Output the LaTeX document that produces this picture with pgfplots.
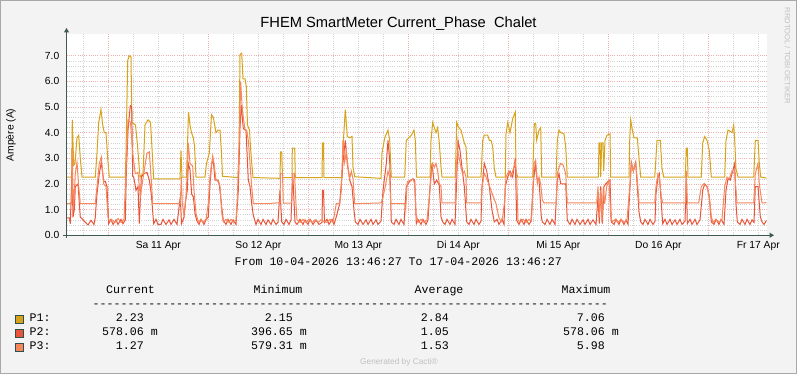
\documentclass[border=0pt]{standalone}
\usepackage{pgfplots}
\pgfplotsset{compat=1.18}
\usepackage{pgfplotstable}
\usepackage{fontspec}
\setmainfont{Liberation Sans}
\newfontfamily\monofont{Liberation Mono}
\usetikzlibrary{arrows.meta}
\definecolor{canvas}{HTML}{F3F3F3}
\definecolor{pone}{HTML}{D8A31A}
\definecolor{ptwo}{HTML}{E8553A}
\definecolor{pthree}{HTML}{F7875C}
\definecolor{mgrid}{HTML}{F0B0B0}
\definecolor{ngrid}{HTML}{D2D2D2}
\definecolor{axiscol}{HTML}{3E5A52}
\definecolor{boxborder}{HTML}{2F4F4F}
\definecolor{faint}{HTML}{C0C0C0}
\definecolor{frame}{HTML}{A8A8A8}

% x = time in hundredths of a day since 10 Apr 00:00 (plot shows 58.2 .. 758.2), y = ampere
\pgfplotstableread{
x y
58.2 2.27
63.4 2.27
64.0 4.5
65.4 2.73
66.7 2.8
68.7 3.8
70.4 3.9
72.0 3.0
73.7 2.27
87.0 2.27
88.7 3.2
90.4 4.4
92.7 4.9
94.4 4.3
96.0 4.0
97.7 4.0
99.4 3.0
101.0 2.27
117.0 2.27
117.7 3.2
119.4 6.8
120.7 7.0
122.7 6.95
123.6 4.4
127.2 4.3
129.2 3.5
131.7 2.27
134.7 2.4
136.7 4.3
139.7 4.5
142.2 4.4
143.7 3.4
145.4 2.2
171.7 2.2
172.7 3.3
173.7 2.27
178.2 2.27
179.0 3.3
180.2 4.8
181.7 4.3
183.2 4.0
185.0 3.8
186.2 3.5
187.7 2.27
196.7 2.27
198.2 2.8
201.0 3.2
203.2 4.7
205.0 4.6
207.7 4.0
209.7 4.1
211.7 4.1
213.2 3.2
214.2 2.3
229.7 2.25
230.7 3.25
231.7 7.05
233.4 7.1
234.7 6.1
236.7 6.1
238.0 5.8
239.2 4.3
241.2 4.1
242.4 3.3
244.7 2.25
271.7 2.22
272.2 3.25
273.4 3.25
274.2 2.25
283.7 2.25
284.0 3.4
286.4 3.4
287.0 2.25
313.7 2.25
314.2 3.6
315.2 3.6
315.7 2.25
333.7 2.25
334.7 3.45
337.0 4.9
339.0 3.85
341.4 3.8
343.7 3.85
344.7 2.65
346.4 2.28
372.7 2.22
373.7 3.2
376.4 3.8
379.7 4.1
381.4 3.7
383.0 2.27
396.4 2.27
398.0 3.7
403.0 3.9
405.7 4.1
407.0 3.7
408.2 2.27
421.7 2.27
422.7 3.7
424.4 4.4
426.0 4.2
427.7 4.0
429.4 4.2
431.0 3.6
432.7 2.66
433.7 2.27
447.0 2.27
448.4 4.4
450.4 4.2
452.7 4.1
456.0 3.6
457.7 3.45
459.4 2.27
472.7 2.27
474.4 3.7
476.0 3.9
479.4 3.9
481.0 3.7
482.7 3.7
484.4 3.45
486.0 2.6
487.7 2.27
497.0 2.27
497.7 3.95
499.4 4.4
501.7 4.0
504.4 4.55
507.0 4.8
507.7 2.5
509.4 2.27
524.4 2.27
526.0 4.35
527.4 4.35
528.4 3.7
530.7 4.1
532.4 4.2
533.4 2.27
547.7 2.27
549.0 3.7
550.7 4.1
552.4 4.0
555.7 3.95
557.4 3.45
559.0 2.27
590.0 2.27
590.7 3.6
591.7 3.6
592.4 2.27
593.4 3.6
594.7 3.6
595.4 2.5
596.7 3.7
598.7 3.9
601.7 3.95
602.4 2.27
620.7 2.27
621.4 3.7
622.4 4.5
624.0 4.1
625.7 3.8
629.0 3.8
630.7 3.0
632.4 2.27
646.4 2.27
647.0 2.6
648.7 3.7
652.0 3.7
653.7 2.6
655.4 2.27
677.0 2.27
678.0 3.4
679.0 3.4
679.7 2.27
693.0 2.27
694.4 3.6
696.4 3.85
698.7 3.7
701.0 3.3
703.0 2.27
716.4 2.27
717.7 3.7
719.7 4.1
722.0 4.05
723.7 4.0
725.4 4.3
726.4 3.7
727.7 2.6
729.7 2.27
745.4 2.27
747.0 3.7
749.7 3.7
751.0 2.8
752.4 2.27
758.2 2.23
}\dataA

\pgfplotstableread{
x y
58.2 0.68
61.0 0.68
62.0 0.45
63.7 2.5
64.7 0.7
66.0 1.0
67.0 1.9
69.7 2.0
72.0 0.7
73.7 0.65
76.7 0.52
79.7 0.4
82.7 0.58
85.7 0.42
87.0 0.7
88.4 1.5
91.0 2.4
93.0 2.85
95.4 2.1
97.0 2.1
98.7 1.9
100.4 0.45
102.7 0.62
104.7 0.42
107.7 0.6
109.7 0.42
112.7 0.62
114.7 0.45
117.0 0.6
118.0 2.4
119.7 4.1
122.0 5.05
123.4 5.0
124.4 2.3
125.4 2.27
127.7 1.75
129.7 1.9
131.0 0.45
133.0 2.27
135.4 2.4
138.7 2.45
141.0 2.15
143.0 1.6
145.4 0.45
147.7 0.62
149.7 0.42
152.7 0.42
154.7 0.62
157.7 0.42
160.7 0.6
162.7 0.42
165.7 0.62
168.7 0.42
172.0 1.5
173.2 0.45
175.7 0.7
177.2 1.3
179.0 1.75
180.0 2.8
181.7 2.55
183.4 1.6
185.0 1.5
186.7 0.85
188.4 0.58
190.7 0.42
192.7 0.62
195.7 0.42
197.7 0.6
200.0 0.72
201.7 2.0
203.4 2.8
205.0 2.9
206.7 2.15
209.0 2.15
211.0 2.0
213.4 1.1
215.0 0.58
217.7 0.42
219.7 0.62
222.7 0.42
224.7 0.6
227.7 0.42
230.0 1.75
231.7 4.2
233.0 5.07
235.0 4.15
237.7 4.1
240.0 2.15
241.7 1.9
243.4 1.23
245.0 0.78
247.7 0.42
249.7 0.62
252.7 0.42
254.7 0.62
257.7 0.42
259.7 0.6
262.7 0.42
264.7 0.62
267.7 0.42
269.7 0.5
271.7 1.75
273.4 0.52
275.7 0.42
277.7 0.62
280.7 0.42
282.7 0.6
284.4 2.4
286.7 0.52
288.7 0.42
291.7 0.62
294.7 0.42
296.7 0.6
299.7 0.42
301.7 0.62
304.7 0.42
307.7 0.6
310.7 0.42
313.7 0.5
314.2 1.75
315.2 1.75
316.2 0.5
318.7 0.62
320.7 0.42
323.7 0.62
325.7 0.42
328.0 0.72
331.4 1.23
334.7 2.85
337.0 3.7
339.0 2.8
341.4 2.15
343.7 1.9
345.7 0.98
347.0 0.52
349.7 0.42
351.7 0.62
354.7 0.42
357.7 0.6
359.7 0.42
362.7 0.62
364.7 0.42
367.7 0.6
369.7 0.42
372.7 0.55
374.7 1.75
378.0 2.8
379.7 3.7
381.4 2.9
383.0 0.52
385.7 0.42
387.7 0.62
390.7 0.42
392.7 0.62
395.7 0.42
398.0 1.9
401.4 2.1
404.7 2.2
406.4 2.15
408.0 0.45
409.7 0.62
412.7 0.42
414.7 0.62
417.7 0.42
419.7 0.6
421.7 1.9
423.7 2.8
426.0 2.0
428.4 2.15
431.0 1.95
432.7 0.72
434.4 0.52
436.7 0.42
438.7 0.62
441.7 0.42
443.7 0.62
446.7 0.42
448.4 2.15
449.7 3.7
451.7 3.3
453.7 2.65
456.0 1.9
458.4 0.52
460.7 0.42
462.7 0.62
465.7 0.42
467.7 0.62
470.7 0.42
472.7 0.55
473.7 1.9
476.0 2.8
478.4 2.5
481.0 1.9
483.7 0.98
486.0 0.52
488.7 0.62
490.7 0.42
493.7 0.62
495.7 0.42
497.0 1.9
499.4 2.27
501.7 2.5
504.4 2.27
507.0 3.0
508.4 0.58
510.7 0.42
512.7 0.62
515.7 0.42
517.7 0.62
520.7 0.42
522.7 0.55
525.0 2.0
527.0 2.8
528.7 2.2
530.7 2.15
533.0 0.72
534.0 0.52
536.7 0.42
538.7 0.62
541.7 0.42
543.7 0.62
546.7 0.42
549.0 2.15
550.7 2.4
552.4 2.0
555.0 2.0
557.4 2.0
559.0 0.58
561.7 0.42
563.7 0.62
566.7 0.42
568.7 0.62
571.7 0.42
574.7 0.6
576.7 0.42
579.7 0.62
581.7 0.42
584.7 0.6
587.7 0.42
589.7 1.5
591.0 0.45
592.4 1.9
594.0 0.45
595.7 1.9
597.4 2.0
599.7 2.1
601.7 2.15
603.0 0.52
605.7 0.42
607.7 0.62
610.7 0.42
612.7 0.62
615.7 0.42
617.7 0.6
619.7 0.42
621.7 1.9
623.0 2.85
625.0 2.5
627.4 2.85
629.0 1.9
630.7 0.91
632.4 0.52
634.7 0.42
636.7 0.62
639.7 0.42
641.7 0.62
644.7 0.42
646.7 0.55
647.7 1.62
649.7 2.27
651.0 2.4
653.0 1.23
654.4 0.45
656.7 0.62
658.7 0.42
661.7 0.62
663.7 0.42
666.7 0.6
668.7 0.42
671.7 0.62
673.7 0.42
676.7 0.55
678.0 2.27
679.0 0.45
681.7 0.62
683.7 0.42
686.7 0.62
688.7 0.42
691.7 0.6
694.4 1.75
696.4 2.0
698.7 1.9
701.0 1.5
703.0 0.52
705.7 0.42
707.7 0.62
710.7 0.42
712.7 0.62
715.7 0.42
717.7 1.75
719.7 2.2
722.0 2.15
724.4 2.5
726.4 2.8
727.7 1.23
729.0 0.52
731.7 0.42
733.7 0.62
736.7 0.42
738.7 0.62
741.7 0.42
743.7 0.6
745.7 0.5
747.0 1.9
749.7 1.9
752.0 0.72
753.7 0.52
755.7 0.42
758.2 0.58
}\dataB

\pgfplotstableread{
x y
58.2 1.23
63.4 1.23
63.7 3.4
65.2 1.0
67.0 2.4
68.7 2.85
70.4 1.9
72.0 1.23
87.0 1.23
88.7 1.9
91.0 2.8
93.0 3.05
95.4 2.0
97.7 1.9
99.7 0.72
101.0 0.55
103.7 0.6
106.7 0.5
109.7 0.65
112.7 0.5
115.7 0.62
118.0 2.8
119.7 4.5
122.2 4.4
124.4 3.2
127.0 2.4
129.7 2.45
132.0 1.5
135.4 2.4
138.7 3.2
141.0 3.25
143.0 2.15
144.4 1.23
172.0 1.23
173.0 2.27
174.0 1.23
175.7 0.8
177.7 1.5
179.0 2.5
180.0 3.6
181.7 2.8
184.4 2.7
185.7 1.75
187.7 0.85
190.0 0.52
192.7 0.62
194.7 0.5
197.7 0.62
200.0 1.23
201.7 2.27
204.4 3.1
205.7 2.8
207.7 2.15
210.0 2.15
211.7 1.9
213.4 0.91
215.0 0.52
217.7 0.62
220.7 0.5
222.7 0.62
225.7 0.5
227.7 0.6
229.0 1.4
231.0 3.7
232.4 5.98
233.7 5.1
235.0 4.6
236.7 4.1
238.4 4.1
240.0 3.7
241.7 2.8
243.4 1.9
245.0 1.23
257.7 1.23
271.7 1.27
272.2 2.4
274.2 2.4
275.0 1.25
283.4 1.25
284.2 2.4
286.2 2.4
287.7 1.23
288.7 0.6
291.7 0.5
294.7 0.62
297.7 0.5
300.7 0.62
303.7 0.5
306.7 0.6
309.7 0.5
312.7 0.6
314.7 0.55
318.7 0.5
321.7 0.62
324.7 0.5
328.0 1.23
331.4 1.23
333.0 1.75
334.7 3.7
336.4 2.85
338.0 3.3
339.7 2.65
341.4 2.2
343.0 2.5
344.7 2.2
346.4 1.23
373.0 1.26
374.7 1.5
377.0 1.9
379.7 2.5
381.4 2.27
382.4 1.23
396.4 1.23
397.4 1.0
399.0 2.1
403.0 2.15
404.7 2.2
406.4 2.0
407.7 0.85
409.7 0.5
412.7 0.62
415.7 0.5
418.7 0.6
421.7 1.75
422.7 2.27
424.4 2.8
426.0 2.65
427.7 2.8
429.4 2.5
431.0 2.0
432.7 1.9
433.7 1.26
447.0 1.26
447.7 2.5
449.4 3.3
451.0 2.99
452.7 2.65
454.4 2.4
456.0 2.5
457.7 2.27
458.4 1.26
472.7 1.26
473.7 1.9
476.0 2.4
477.7 2.27
480.4 2.0
482.7 1.75
485.0 1.5
487.7 1.23
490.4 0.72
492.7 0.52
494.4 0.72
496.0 1.23
497.7 2.27
500.4 2.5
502.7 2.27
504.4 2.5
507.0 2.85
508.4 2.27
509.7 0.6
511.7 0.5
514.7 0.62
517.7 0.5
520.7 0.62
523.2 0.55
524.7 1.9
525.7 2.8
527.4 2.92
529.0 2.0
530.7 2.27
532.4 2.0
534.0 1.37
535.7 1.26
548.0 1.26
549.0 2.4
550.7 2.65
552.4 2.8
555.0 2.73
557.4 2.4
559.0 1.26
588.4 1.26
589.7 1.9
591.0 0.72
592.4 1.75
593.7 0.52
595.0 1.9
596.4 1.23
598.4 1.9
600.7 2.15
602.4 0.72
604.0 0.52
606.7 0.62
609.7 0.5
612.7 0.62
615.7 0.5
618.7 0.6
621.7 2.0
623.0 2.8
625.0 2.5
627.4 2.8
629.0 2.15
630.7 1.26
646.4 1.26
647.7 1.9
649.7 2.4
651.0 2.27
653.0 1.5
654.4 1.26
677.0 1.26
678.0 2.5
679.0 1.26
690.4 1.26
693.0 1.9
695.4 2.0
698.7 1.9
701.0 1.5
703.0 0.72
704.7 0.5
707.7 0.62
710.7 0.5
713.7 0.62
716.4 1.9
718.7 2.27
721.0 2.2
723.7 2.5
726.4 2.4
728.7 1.26
745.4 1.26
747.0 2.4
749.7 2.8
751.0 2.0
753.7 1.26
758.2 1.27
}\dataC

\newcommand\legfont{\monofont\fontsize{11.6}{13}\selectfont}
\newcommand\dashline{\foreach \i in {1,...,74}{-{}}}

\begin{document}
\begin{tikzpicture}[x=1pt,y=1pt]
\draw[draw=frame, fill=canvas, line width=1pt] (0.5,0.5) rectangle (796.5,373.5);

\begin{axis}[
  at={(66.5pt,138.75pt)}, anchor=south west,
  scale only axis, width=700pt, height=200.8pt,
  xmin=58.2, xmax=758.2, ymin=0, ymax=7.83,
  axis line style={draw=none},
  axis background/.style={fill=white},
  no markers,
  xtick={150,250,350,450,550,650,750},
  xticklabels={Sa 11 Apr,So 12 Apr,Mo 13 Apr,Di 14 Apr,Mi 15 Apr,Do 16 Apr,Fr 17 Apr},
  minor xtick={75,125,175,225,275,325,375,425,475,525,575,625,675,725},
  extra x ticks={100,200,300,400,500,600,700},
  extra x tick labels={},
  extra x tick style={grid=major, major x grid style={draw=mgrid, line width=0.6pt, dash pattern=on 1pt off 1.2pt}},
  ytick={0,1,2,3,4,5,6,7},
  yticklabels={0.0,1.0,2.0,3.0,4.0,5.0,6.0,7.0},
  minor y tick num=4,
  grid=both,
  major x grid style={draw=ngrid, line width=0.6pt, dash pattern=on 1pt off 1.2pt},
  minor x grid style={draw=ngrid, line width=0.6pt, dash pattern=on 1pt off 1.2pt},
  major y grid style={draw=mgrid, line width=0.6pt, dash pattern=on 1pt off 1.2pt},
  minor y grid style={draw=ngrid, line width=0.6pt, dash pattern=on 1pt off 1.2pt},
  major tick length=0pt, minor tick length=0pt,
  xticklabel style={font=\fontsize{10.3}{12}\selectfont, anchor=base, inner sep=0pt, yshift=-13.4pt},
  yticklabel style={font=\fontsize{10.3}{12}\selectfont, anchor=east, inner sep=0pt, xshift=-7pt},
]
\addplot[pone, line width=1pt] table[x=x,y=y]{\dataA};
\addplot[ptwo, line width=1pt] table[x=x,y=y]{\dataB};
\addplot[pthree, line width=1pt] table[x=x,y=y]{\dataC};
\end{axis}

% axis lines with arrows
\draw[axiscol, line width=1pt, -{Triangle[length=4.5pt,width=5pt]}] (66.5,136) -- (66.5,346);
\draw[axiscol, line width=1pt, -{Triangle[length=4.5pt,width=5pt]}] (63,138.75) -- (774,138.75);

% title and labels
\node[font=\fontsize{14.7}{16}\selectfont, anchor=base] at (398.5,346) {FHEM SmartMeter Current\_Phase\ \ Chalet};
\node[rotate=90, font=\fontsize{10.3}{12}\selectfont] at (11,239) {Ampère (A)};
\node[rotate=-90, font=\fontsize{7.6}{9}\selectfont, text=faint] at (787.5,318) {RRDTOOL / TOBI OETIKER};

% legend block
\node[font=\legfont, anchor=base] at (398.3,108.3) {From 10-04-2026 13:46:27 To 17-04-2026 13:46:27};
\begin{scope}[every node/.style={font=\legfont, inner sep=0pt}]
\node[anchor=base west] at (106,80) {Current};
\node[anchor=base west] at (253.5,80) {Minimum};
\node[anchor=base west] at (414.5,80) {Average};
\node[anchor=base west] at (561.5,80) {Maximum};
\node[anchor=base west] at (92.5,66.5) {\dashline};

\node[anchor=base west] at (29.5,52.3) {P1:};
\node[anchor=base east] at (144,52.3) {2.23};
\node[anchor=base east] at (293,52.3) {2.15};
\node[anchor=base east] at (449,52.3) {2.84};
\node[anchor=base east] at (605,52.3) {7.06};

\node[anchor=base west] at (29.5,38) {P2:};
\node[anchor=base east] at (158,38) {578.06 m};
\node[anchor=base east] at (307,38) {396.65 m};
\node[anchor=base east] at (449,38) {1.05};
\node[anchor=base east] at (619,38) {578.06 m};

\node[anchor=base west] at (29.5,24) {P3:};
\node[anchor=base east] at (144,24) {1.27};
\node[anchor=base east] at (307,24) {579.31 m};
\node[anchor=base east] at (449,24) {1.53};
\node[anchor=base east] at (605,24) {5.98};
\end{scope}
\draw[boxborder, fill=pone, line width=0.8pt] (15.5,50.8) rectangle (23.5,58.8);
\draw[boxborder, fill=ptwo, line width=0.8pt] (15.5,36.5) rectangle (23.5,44.5);
\draw[boxborder, fill=pthree, line width=0.8pt] (15.5,22.5) rectangle (23.5,30.5);

\node[font=\fontsize{8.3}{10}\selectfont, text=faint, anchor=base] at (399,9) {Generated by Cacti®};

\pgfresetboundingbox
\useasboundingbox (0,0) rectangle (797,374);
\end{tikzpicture}
\end{document}
